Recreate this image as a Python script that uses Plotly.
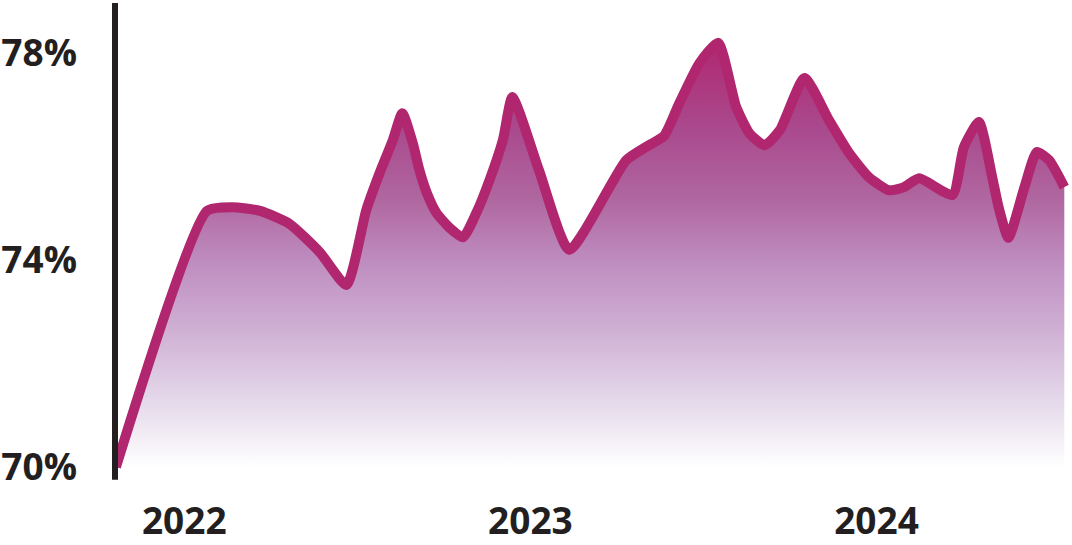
import plotly.graph_objects as go

# ---- data ----
dates = [
    "2021-10-21", "2022-01-25", "2022-02-21", "2022-03-22", "2022-04-22",
    "2022-05-24", "2022-06-21", "2022-07-12", "2022-07-26",
    "2022-08-09", "2022-08-19", "2022-08-30", "2022-09-06", "2022-09-14",
    "2022-09-24", "2022-10-08", "2022-10-22", "2022-11-05", "2022-11-19",
    "2022-12-03", "2022-12-13", "2023-01-10", "2023-02-11",
    "2023-04-12", "2023-05-06", "2023-05-22", "2023-06-07", "2023-06-28",
    "2023-07-18", "2023-08-06", "2023-08-20", "2023-09-05", "2023-09-21",
    "2023-10-17", "2023-11-12", "2023-12-03", "2023-12-24", "2024-01-14",
    "2024-01-30", "2024-02-15", "2024-03-21", "2024-04-02", "2024-04-18",
    "2024-05-02", "2024-05-09", "2024-05-19", "2024-06-05", "2024-06-18",
    "2024-07-01", "2024-07-17",
]
values = [
    70.00, 74.95, 75.02, 74.95, 74.70,
    74.15, 73.52, 74.97, 75.68,
    76.32, 76.84, 76.26, 75.74, 75.29,
    74.91, 74.62, 74.44, 74.91, 75.55,
    76.32, 77.15, 75.74, 74.20,
    75.93, 76.22, 76.40, 77.03, 77.80,
    78.20, 76.96, 76.45, 76.22, 76.51,
    77.52, 76.70, 76.07, 75.60, 75.35,
    75.41, 75.58, 75.26, 76.18, 76.67,
    75.60, 75.00, 74.43, 75.41, 76.09,
    75.93, 75.41,
]
year_ticks = ["2022-01-01", "2023-01-01", "2024-01-01"]
year_labels = ["2022", "2023", "2024"]
pct_ticks = [70, 74, 78]
pct_labels = ["70%", "74%", "78%"]

LINE = "#b0266f"
INK = "#231f20"

fig = go.Figure()
fig.add_trace(go.Scatter(
    x=dates, y=values, mode="lines",
    line=dict(color=LINE, width=10, shape="spline", smoothing=0.55),
    fill="tozeroy",
    fillgradient=dict(
        type="vertical", start=70, stop=78.25,
        colorscale=[
            [0.0, "#ffffff"], [0.157, "#e4d8ea"], [0.321, "#cfb0d4"],
            [0.485, "#be8cbf"], [0.625, "#b067a0"], [0.789, "#aa4a8e"],
            [1.0, "#b0266f"],
        ],
    ),
    hoverinfo="skip", showlegend=False,
))

# vertical axis bar drawn over the line start
fig.add_shape(
    type="line", xref="paper", yref="paper",
    x0=0, x1=0, y0=-0.006, y1=1.004,
    line=dict(color=INK, width=6), layer="above",
)

font = dict(family="Open Sans", size=37, color=INK, weight="bold")

fig.update_layout(
    width=1072, height=545,
    margin=dict(l=115, r=2, t=5, b=68, autoexpand=False),
    paper_bgcolor="white", plot_bgcolor="white",
    showlegend=False,
    xaxis=dict(
        type="date", range=["2021-10-20", "2024-07-23"],
        tickvals=year_ticks, ticktext=year_labels,
        showgrid=False, zeroline=False, showline=False, ticks="",
        tickfont=font, ticklabelstandoff=19, automargin=False,
    ),
    yaxis=dict(
        range=[69.807, 78.93],
        tickvals=pct_ticks, ticktext=pct_labels,
        showgrid=False, zeroline=False, showline=False, ticks="",
        tickfont=font, ticklabelstandoff=37, automargin=False,
    ),
)

fig.write_html("out.html", config={"displayModeBar": False},
               post_script="document.body.style.margin='0';")
